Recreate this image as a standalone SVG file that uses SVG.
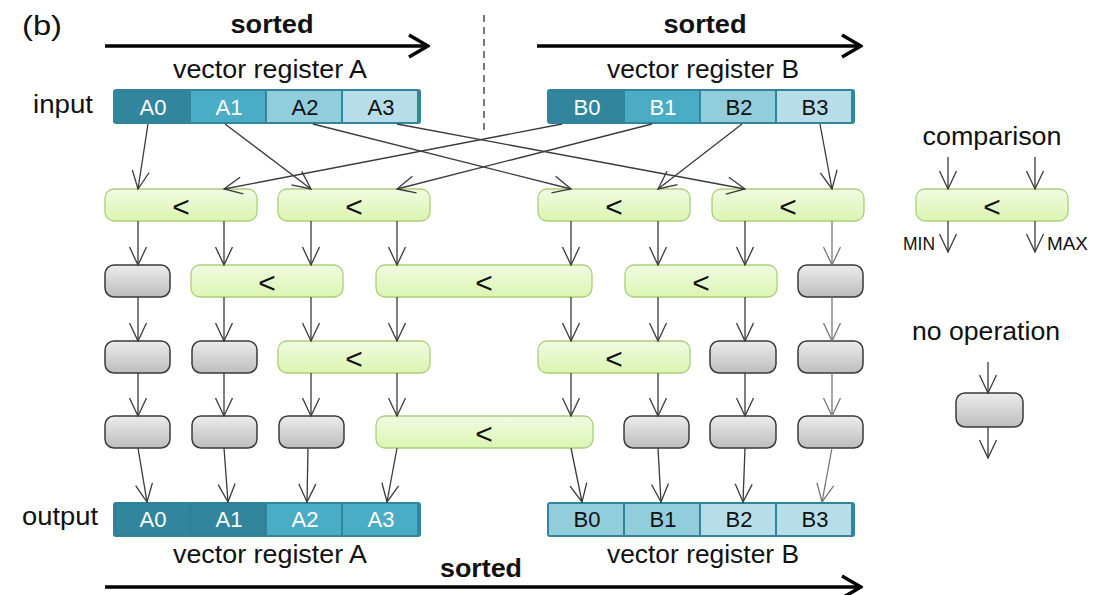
<svg xmlns="http://www.w3.org/2000/svg" width="1101" height="595" viewBox="0 0 1101 595">
<style>
text{font-family:"Liberation Sans",Arial,sans-serif;fill:#111}
.lbl{font-size:26.5px}
.bold{font-size:26px;font-weight:bold}
.cell{font-size:22px;text-anchor:middle}
.w{fill:#fff}
.lt{font-size:30px;text-anchor:middle}
.cmp{fill:url(#gG);stroke:#A9D07A;stroke-width:1.3}
.nop{fill:url(#gN);stroke:#3a3a3a;stroke-width:1.5}
.c{stroke:#3a3a3a;stroke-width:1.3;fill:none;marker-end:url(#ah)}
.c8{stroke:#777;stroke-width:1.3;fill:none;marker-end:url(#ah8)}
.big{stroke:#000;stroke-width:3.5;fill:none;marker-end:url(#big)}
</style>
<defs>
<linearGradient id="gG" x1="0" y1="0" x2="0" y2="1"><stop offset="0" stop-color="#F1FBE2"/><stop offset="1" stop-color="#DBF5B2"/></linearGradient>
<linearGradient id="gN" x1="0" y1="0" x2="0" y2="1"><stop offset="0" stop-color="#ECECEC"/><stop offset="1" stop-color="#BDBDBD"/></linearGradient>
<marker id="ah" viewBox="-20 -11 22 22" refX="0" refY="0" markerWidth="22" markerHeight="22" markerUnits="userSpaceOnUse" orient="auto"><path d="M-18,-8.5 L0,0 L-18,8.5" fill="none" stroke="#3a3a3a" stroke-width="1.3"/></marker>
<marker id="ah8" viewBox="-20 -11 22 22" refX="0" refY="0" markerWidth="22" markerHeight="22" markerUnits="userSpaceOnUse" orient="auto"><path d="M-18,-8.5 L0,0 L-18,8.5" fill="none" stroke="#777" stroke-width="1.3"/></marker>
<marker id="big" viewBox="-24 -14 26 28" refX="0" refY="0" markerWidth="26" markerHeight="28" markerUnits="userSpaceOnUse" orient="auto"><path d="M-19,-11 L0,0 L-19,11" fill="none" stroke="#000" stroke-width="3.5"/></marker>
</defs>

<!-- titles and arrows -->
<g id="labels">
<text x="22" y="35" style="font-size:28px" textLength="40" lengthAdjust="spacingAndGlyphs">(b)</text>
<text class="bold" x="272" y="33" text-anchor="middle" textLength="83" lengthAdjust="spacingAndGlyphs">sorted</text>
<text class="bold" x="705" y="33" text-anchor="middle" textLength="83" lengthAdjust="spacingAndGlyphs">sorted</text>
<text class="bold" x="481" y="577" text-anchor="middle" textLength="82" lengthAdjust="spacingAndGlyphs">sorted</text>
<text class="lbl" x="270" y="78" text-anchor="middle" textLength="194" lengthAdjust="spacingAndGlyphs">vector register A</text>
<text class="lbl" x="703" y="78" text-anchor="middle" textLength="192" lengthAdjust="spacingAndGlyphs">vector register B</text>
<text class="lbl" x="270" y="563" text-anchor="middle" textLength="194" lengthAdjust="spacingAndGlyphs">vector register A</text>
<text class="lbl" x="703" y="563" text-anchor="middle" textLength="192" lengthAdjust="spacingAndGlyphs">vector register B</text>
<text class="lbl" x="33" y="113" textLength="60" lengthAdjust="spacingAndGlyphs">input</text>
<text class="lbl" x="22" y="525" textLength="76" lengthAdjust="spacingAndGlyphs">output</text>
</g>
<g id="sorted-arrows">
<line class="big" x1="105" y1="46" x2="428" y2="46"/>
<line class="big" x1="537" y1="46" x2="861" y2="46"/>
<line class="big" x1="105" y1="587" x2="861" y2="587"/>
<line x1="484" y1="15" x2="484" y2="131" stroke="#333" stroke-width="1.3" stroke-dasharray="7,5"/>
</g>

<!-- registers -->
<g id="regA-in">
<rect x="113" y="89" width="308" height="35" rx="3" fill="#31859C"/>
<rect x="115" y="91" width="74" height="31" fill="#31859C"/>
<rect x="191" y="91" width="74" height="31" fill="#4BACC6"/>
<rect x="267" y="91" width="74" height="31" fill="#92CDDC"/>
<rect x="343" y="91" width="74" height="31" fill="#B7DEE8"/>
<text class="cell w" x="153" y="115">A0</text>
<text class="cell w" x="229" y="115">A1</text>
<text class="cell" x="305" y="115">A2</text>
<text class="cell" x="381" y="115">A3</text>
</g>
<g id="regB-in">
<rect x="547" y="89" width="308" height="35" rx="3" fill="#31859C"/>
<rect x="549" y="91" width="74" height="31" fill="#31859C"/>
<rect x="625" y="91" width="74" height="31" fill="#4BACC6"/>
<rect x="701" y="91" width="74" height="31" fill="#92CDDC"/>
<rect x="777" y="91" width="74" height="31" fill="#B7DEE8"/>
<text class="cell w" x="587" y="115">B0</text>
<text class="cell w" x="663" y="115">B1</text>
<text class="cell" x="739" y="115">B2</text>
<text class="cell" x="815" y="115">B3</text>
</g>
<g id="regA-out">
<rect x="113" y="502" width="308" height="35" rx="3" fill="#31859C"/>
<rect x="115" y="504" width="74" height="31" fill="#31859C" stroke="#2B7A8F" stroke-width="0.8"/>
<rect x="191" y="504" width="74" height="31" fill="#31859C" stroke="#2B7A8F" stroke-width="0.8"/>
<rect x="267" y="504" width="74" height="31" fill="#4BACC6"/>
<rect x="343" y="504" width="74" height="31" fill="#4BACC6"/>
<text class="cell w" x="153" y="527">A0</text>
<text class="cell w" x="229" y="527">A1</text>
<text class="cell w" x="305" y="527">A2</text>
<text class="cell w" x="381" y="527">A3</text>
</g>
<g id="regB-out">
<rect x="547" y="502" width="308" height="35" rx="3" fill="#31859C"/>
<rect x="549" y="504" width="74" height="31" fill="#92CDDC"/>
<rect x="625" y="504" width="74" height="31" fill="#92CDDC"/>
<rect x="701" y="504" width="74" height="31" fill="#B7DEE8"/>
<rect x="777" y="504" width="74" height="31" fill="#B7DEE8"/>
<text class="cell" x="587" y="527">B0</text>
<text class="cell" x="663" y="527">B1</text>
<text class="cell" x="739" y="527">B2</text>
<text class="cell" x="815" y="527">B3</text>
</g>

<!-- row 1 -->
<g id="r1c12"><rect class="cmp" x="105" y="189" width="152" height="32" rx="9"/><text class="lt" x="181" y="217">&lt;</text></g>
<g id="r1c34"><rect class="cmp" x="278" y="189" width="152" height="32" rx="9"/><text class="lt" x="354" y="217">&lt;</text></g>
<g id="r1c56"><rect class="cmp" x="538" y="189" width="152" height="32" rx="9"/><text class="lt" x="614" y="217">&lt;</text></g>
<g id="r1c78"><rect class="cmp" x="712" y="189" width="152" height="32" rx="9"/><text class="lt" x="788" y="217">&lt;</text></g>
<!-- row 2 -->
<g id="r2c1"><rect class="nop" x="105" y="265" width="65" height="32" rx="9"/></g>
<g id="r2c23"><rect class="cmp" x="191" y="265" width="152" height="32" rx="9"/><text class="lt" x="267" y="293">&lt;</text></g>
<g id="r2c45"><rect class="cmp" x="376" y="265" width="216" height="32" rx="9"/><text class="lt" x="484" y="293">&lt;</text></g>
<g id="r2c67"><rect class="cmp" x="625" y="265" width="152" height="32" rx="9"/><text class="lt" x="701" y="293">&lt;</text></g>
<g id="r2c8"><rect class="nop" x="798" y="265" width="65" height="32" rx="9"/></g>
<!-- row 3 -->
<g id="r3c1"><rect class="nop" x="105" y="341" width="65" height="32" rx="9"/></g>
<g id="r3c2"><rect class="nop" x="192" y="341" width="65" height="32" rx="9"/></g>
<g id="r3c34"><rect class="cmp" x="278" y="341" width="152" height="32" rx="9"/><text class="lt" x="354" y="369">&lt;</text></g>
<g id="r3c56"><rect class="cmp" x="538" y="341" width="152" height="32" rx="9"/><text class="lt" x="614" y="369">&lt;</text></g>
<g id="r3c7"><rect class="nop" x="710" y="341" width="66" height="32" rx="9"/></g>
<g id="r3c8"><rect class="nop" x="798" y="341" width="65" height="32" rx="9"/></g>
<!-- row 4 -->
<g id="r4c1"><rect class="nop" x="105" y="416" width="65" height="32" rx="9"/></g>
<g id="r4c2"><rect class="nop" x="192" y="416" width="65" height="32" rx="9"/></g>
<g id="r4c3"><rect class="nop" x="279" y="416" width="65" height="32" rx="9"/></g>
<g id="r4c45"><rect class="cmp" x="376" y="416" width="217" height="32" rx="9"/><text class="lt" x="484" y="444">&lt;</text></g>
<g id="r4c6"><rect class="nop" x="624" y="416" width="65" height="32" rx="9"/></g>
<g id="r4c7"><rect class="nop" x="710" y="416" width="66" height="32" rx="9"/></g>
<g id="r4c8"><rect class="nop" x="798" y="416" width="65" height="32" rx="9"/></g>

<!-- legend -->
<g id="legend-comparison">
<text class="lbl" x="992" y="145" text-anchor="middle" textLength="139" lengthAdjust="spacingAndGlyphs">comparison</text>
<rect class="cmp" x="916" y="189" width="152" height="32" rx="9"/><text class="lt" x="992" y="217">&lt;</text>
<line class="c" x1="948" y1="157" x2="948" y2="189"/>
<line class="c" x1="1035" y1="157" x2="1035" y2="189"/>
<line class="c" x1="948" y1="221" x2="948" y2="252"/>
<line class="c" x1="1035" y1="221" x2="1035" y2="252"/>
<text x="935" y="250" style="font-size:18px" text-anchor="end" textLength="32" lengthAdjust="spacingAndGlyphs">MIN</text>
<text x="1047" y="250" style="font-size:18px" textLength="41" lengthAdjust="spacingAndGlyphs">MAX</text>
</g>
<g id="legend-nop">
<text class="lbl" x="986" y="340" text-anchor="middle" textLength="148" lengthAdjust="spacingAndGlyphs">no operation</text>
<rect class="nop" x="956" y="393" width="67" height="34" rx="9"/>
<line class="c" x1="988" y1="362" x2="988" y2="393"/>
<line class="c" x1="988" y1="427" x2="988" y2="458"/>
</g>

<!-- connectors -->
<g id="connectors">
<line class="c" x1="148" y1="124" x2="138" y2="189"/>
<line class="c" x1="225" y1="124" x2="311" y2="189"/>
<line class="c" x1="313" y1="124" x2="571" y2="189"/>
<line class="c" x1="397" y1="124" x2="745" y2="189"/>
<line class="c" x1="562" y1="124" x2="224" y2="189"/>
<line class="c" x1="652" y1="124" x2="397" y2="189"/>
<line class="c" x1="742" y1="124" x2="658" y2="189"/>
<line class="c" x1="820" y1="124" x2="832" y2="189"/>

<line class="c" x1="138" y1="221" x2="138" y2="265"/>
<line class="c" x1="224" y1="221" x2="224" y2="265"/>
<line class="c" x1="311" y1="221" x2="311" y2="265"/>
<line class="c" x1="397" y1="221" x2="397" y2="265"/>
<line class="c" x1="571" y1="221" x2="571" y2="265"/>
<line class="c" x1="658" y1="221" x2="658" y2="265"/>
<line class="c" x1="745" y1="221" x2="745" y2="265"/>
<line class="c8" x1="832" y1="221" x2="832" y2="265"/>

<line class="c" x1="138" y1="297" x2="138" y2="341"/>
<line class="c" x1="224" y1="297" x2="224" y2="341"/>
<line class="c" x1="311" y1="297" x2="311" y2="341"/>
<line class="c" x1="397" y1="297" x2="397" y2="341"/>
<line class="c" x1="571" y1="297" x2="571" y2="341"/>
<line class="c" x1="658" y1="297" x2="658" y2="341"/>
<line class="c" x1="745" y1="297" x2="745" y2="341"/>
<line class="c8" x1="832" y1="297" x2="832" y2="341"/>

<line class="c" x1="138" y1="373" x2="138" y2="416"/>
<line class="c" x1="224" y1="373" x2="224" y2="416"/>
<line class="c" x1="311" y1="373" x2="311" y2="416"/>
<line class="c" x1="397" y1="373" x2="397" y2="416"/>
<line class="c" x1="571" y1="373" x2="571" y2="416"/>
<line class="c" x1="658" y1="373" x2="658" y2="416"/>
<line class="c" x1="745" y1="373" x2="745" y2="416"/>
<line class="c8" x1="832" y1="373" x2="832" y2="416"/>

<line class="c" x1="138" y1="448" x2="147" y2="502"/>
<line class="c" x1="224" y1="448" x2="228" y2="502"/>
<line class="c" x1="308" y1="448" x2="307" y2="502"/>
<line class="c" x1="397" y1="448" x2="387" y2="502"/>
<line class="c" x1="571" y1="448" x2="582" y2="502"/>
<line class="c" x1="658" y1="448" x2="661" y2="502"/>
<line class="c" x1="745" y1="448" x2="743" y2="502"/>
<line class="c8" x1="832" y1="448" x2="822" y2="502"/>
</g>
</svg>
